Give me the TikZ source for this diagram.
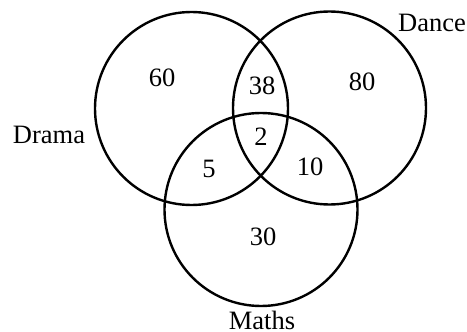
\documentclass[tikz,border=0pt]{standalone}
\usepackage{fontspec}
\setmainfont{Liberation Serif}
\begin{document}
\begin{tikzpicture}[x=1pt,y=-1pt,
  setcircle/.style={circle,draw=black,line width=2.4pt,minimum size=193pt,inner sep=0pt},
  lbl/.style={font=\fontsize{26.5}{30}\selectfont,inner sep=0pt}]
\useasboundingbox (0,0) rectangle (467,332);
\node[setcircle] (drama) at (191.5,108.5) {};
\node[setcircle] (dance) at (329.5,108) {};
\node[setcircle] (maths) at (261,209.5) {};
\node[lbl] (n60) at (162,78) {60};
\node[lbl] (n38) at (262,86) {38};
\node[lbl] (n80) at (362,82) {80};
\node[lbl] (n2) at (261,137) {2};
\node[lbl] (n5) at (209,169) {5};
\node[lbl] (n10) at (310,167) {10};
\node[lbl] (n30) at (263,237) {30};
\node[lbl] (ldrama) at (49,135) {Drama};
\node[lbl] (ldance) at (432,23) {Dance};
\node[lbl] (lmaths) at (262,320) {Maths};
\end{tikzpicture}
\end{document}
